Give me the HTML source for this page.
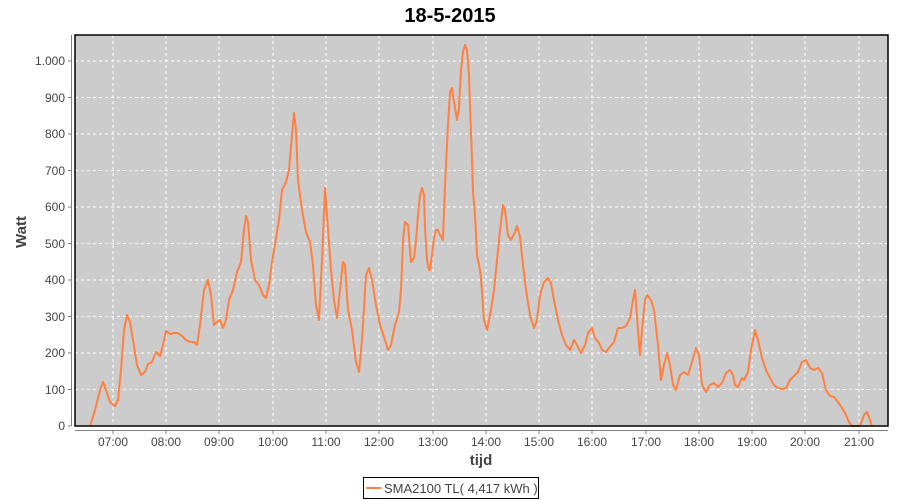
<!DOCTYPE html>
<html><head><meta charset="utf-8"><style>
body{margin:0;background:#fff;}
svg{display:block;font-family:"Liberation Sans","DejaVu Sans",sans-serif;}
</style></head><body>
<svg width="900" height="500" viewBox="0 0 900 500">
<text x="450" y="22" text-anchor="middle" font-size="20" font-weight="bold" fill="#000">18-5-2015</text>
<rect x="75" y="35" width="813" height="391" fill="#cccccc"/>
<g stroke="#fff" stroke-dasharray="3,3" stroke-width="1">
<line x1="75" x2="888" y1="389.5" y2="389.5"/><line x1="75" x2="888" y1="353" y2="353"/>
<line x1="75" x2="888" y1="316.5" y2="316.5"/><line x1="75" x2="888" y1="280" y2="280"/>
<line x1="75" x2="888" y1="243.5" y2="243.5"/><line x1="75" x2="888" y1="207" y2="207"/>
<line x1="75" x2="888" y1="170.5" y2="170.5"/><line x1="75" x2="888" y1="134" y2="134"/>
<line x1="75" x2="888" y1="97.5" y2="97.5"/><line x1="75" x2="888" y1="61" y2="61"/>
<line y1="35" y2="426" x1="113" x2="113"/><line y1="35" y2="426" x1="166" x2="166"/>
<line y1="35" y2="426" x1="219" x2="219"/><line y1="35" y2="426" x1="273" x2="273"/>
<line y1="35" y2="426" x1="326" x2="326"/><line y1="35" y2="426" x1="379" x2="379"/>
<line y1="35" y2="426" x1="433" x2="433"/><line y1="35" y2="426" x1="486" x2="486"/>
<line y1="35" y2="426" x1="539" x2="539"/><line y1="35" y2="426" x1="592" x2="592"/>
<line y1="35" y2="426" x1="646" x2="646"/><line y1="35" y2="426" x1="699" x2="699"/>
<line y1="35" y2="426" x1="752" x2="752"/><line y1="35" y2="426" x1="805" x2="805"/>
<line y1="35" y2="426" x1="859" x2="859"/>
</g>
<polyline fill="none" stroke="#ff8040" stroke-width="2" stroke-linejoin="round" points="90,426 95,410 100,390 103,382 106,390 110,402 115,406 118,400 121,370 124,330 127,315 130,322 133,340 137,365 141,375 145,372 148,364 152,362 156,352 160,356 163,345 166,331 170,334 174,333 178,333 182,336 186,340 190,342 194,342 197,345 200,325 204,290 208,280 211,295 214,325 217,322 220,320 223,328 226,320 229,300 233,290 237,272 241,262 244,230 246,216 248,222 251,260 255,280 259,285 263,295 266,298 269,285 272,262 276,238 279,220 282,190 286,182 289,170 292,135 294,113 296,130 298,180 302,210 306,232 310,242 313,265 316,305 319,320 322,260 325,188 328,230 331,270 334,300 337,318 340,290 343,262 345,265 348,310 352,330 356,362 359,372 362,340 366,275 369,268 372,280 376,305 380,325 384,337 388,350 391,345 395,325 399,312 401,290 403,240 405,222 408,225 410,250 411,262 414,258 416,240 418,215 420,195 422,188 424,195 425,228 427,260 429,270 430,270 432,255 434,238 436,230 438,230 440,235 443,240 444,210 446,165 448,125 450,92 452,88 453,95 455,108 457,120 459,108 461,70 463,52 465,45 467,50 469,75 470,105 472,160 473,192 475,215 477,255 480,270 481,278 484,320 487,330 491,310 494,290 497,260 500,230 503,205 505,210 508,235 511,240 515,232 517,226 520,237 523,265 526,290 530,315 534,328 537,320 540,295 544,282 548,278 551,283 554,300 558,320 562,335 566,345 570,350 574,340 577,345 581,353 585,345 588,333 592,328 595,338 599,343 602,350 606,352 609,348 614,342 618,328 622,328 626,326 630,318 633,300 635,290 638,330 640,355 642,330 645,300 647,295 651,300 654,310 658,345 661,380 664,365 667,353 670,365 673,385 676,390 680,375 684,372 688,375 692,362 696,348 699,355 702,385 706,392 710,385 714,383 718,387 722,383 726,373 730,370 733,375 735,385 738,387 742,378 744,380 748,372 751,350 755,330 758,340 762,358 766,370 770,378 774,385 778,388 782,389 786,388 790,380 794,376 798,372 802,362 806,360 810,368 814,370 818,368 822,373 826,390 830,396 834,397 838,402 842,408 846,415 849,422 852,426 860,426 864,415 867,412 870,420 872,426"/>
<rect x="75" y="35" width="813" height="391" fill="none" stroke="#000" stroke-width="1.5"/>
<g stroke="#808080" stroke-width="1">
<line x1="71.5" x2="71.5" y1="35" y2="426"/>
<line x1="75" x2="888" y1="430.5" y2="430.5"/>
</g>
<g stroke="#808080" stroke-width="1">
<line x1="68" x2="71" y1="426" y2="426"/><line x1="68" x2="71" y1="389.5" y2="389.5"/><line x1="68" x2="71" y1="353" y2="353"/><line x1="68" x2="71" y1="316.5" y2="316.5"/><line x1="68" x2="71" y1="280" y2="280"/><line x1="68" x2="71" y1="243.5" y2="243.5"/><line x1="68" x2="71" y1="207" y2="207"/><line x1="68" x2="71" y1="170.5" y2="170.5"/><line x1="68" x2="71" y1="134" y2="134"/><line x1="68" x2="71" y1="97.5" y2="97.5"/><line x1="68" x2="71" y1="61" y2="61"/>
<line y1="431" y2="434" x1="113" x2="113"/><line y1="431" y2="434" x1="166" x2="166"/><line y1="431" y2="434" x1="219" x2="219"/><line y1="431" y2="434" x1="273" x2="273"/><line y1="431" y2="434" x1="326" x2="326"/><line y1="431" y2="434" x1="379" x2="379"/><line y1="431" y2="434" x1="433" x2="433"/><line y1="431" y2="434" x1="486" x2="486"/><line y1="431" y2="434" x1="539" x2="539"/><line y1="431" y2="434" x1="592" x2="592"/><line y1="431" y2="434" x1="646" x2="646"/><line y1="431" y2="434" x1="699" x2="699"/><line y1="431" y2="434" x1="752" x2="752"/><line y1="431" y2="434" x1="805" x2="805"/><line y1="431" y2="434" x1="859" x2="859"/>
</g>
<g font-size="12" fill="#444" text-anchor="end">
<text x="65" y="430">0</text><text x="65" y="394">100</text><text x="65" y="357">200</text><text x="65" y="321">300</text><text x="65" y="284">400</text><text x="65" y="248">500</text><text x="65" y="211">600</text><text x="65" y="175">700</text><text x="65" y="138">800</text><text x="65" y="102">900</text><text x="65" y="65">1.000</text>
</g>
<g font-size="12" fill="#444" text-anchor="middle">
<text x="113" y="446">07:00</text><text x="166" y="446">08:00</text><text x="219" y="446">09:00</text><text x="273" y="446">10:00</text><text x="326" y="446">11:00</text><text x="379" y="446">12:00</text><text x="433" y="446">13:00</text><text x="486" y="446">14:00</text><text x="539" y="446">15:00</text><text x="592" y="446">16:00</text><text x="646" y="446">17:00</text><text x="699" y="446">18:00</text><text x="752" y="446">19:00</text><text x="805" y="446">20:00</text><text x="859" y="446">21:00</text>
</g>
<text x="481" y="465" text-anchor="middle" font-size="15" font-weight="bold" fill="#444">tijd</text>
<text transform="translate(26,232) rotate(-90)" text-anchor="middle" font-size="15" font-weight="bold" fill="#444">Watt</text>
<rect x="363.5" y="477.5" width="175" height="21" fill="#fff" stroke="#000" stroke-width="1"/>
<line x1="366" x2="381" y1="488" y2="488" stroke="#ff8040" stroke-width="2"/>
<text x="384" y="493" font-size="13" fill="#444">SMA2100 TL( 4,417 kWh )</text>
</svg>
</body></html>
